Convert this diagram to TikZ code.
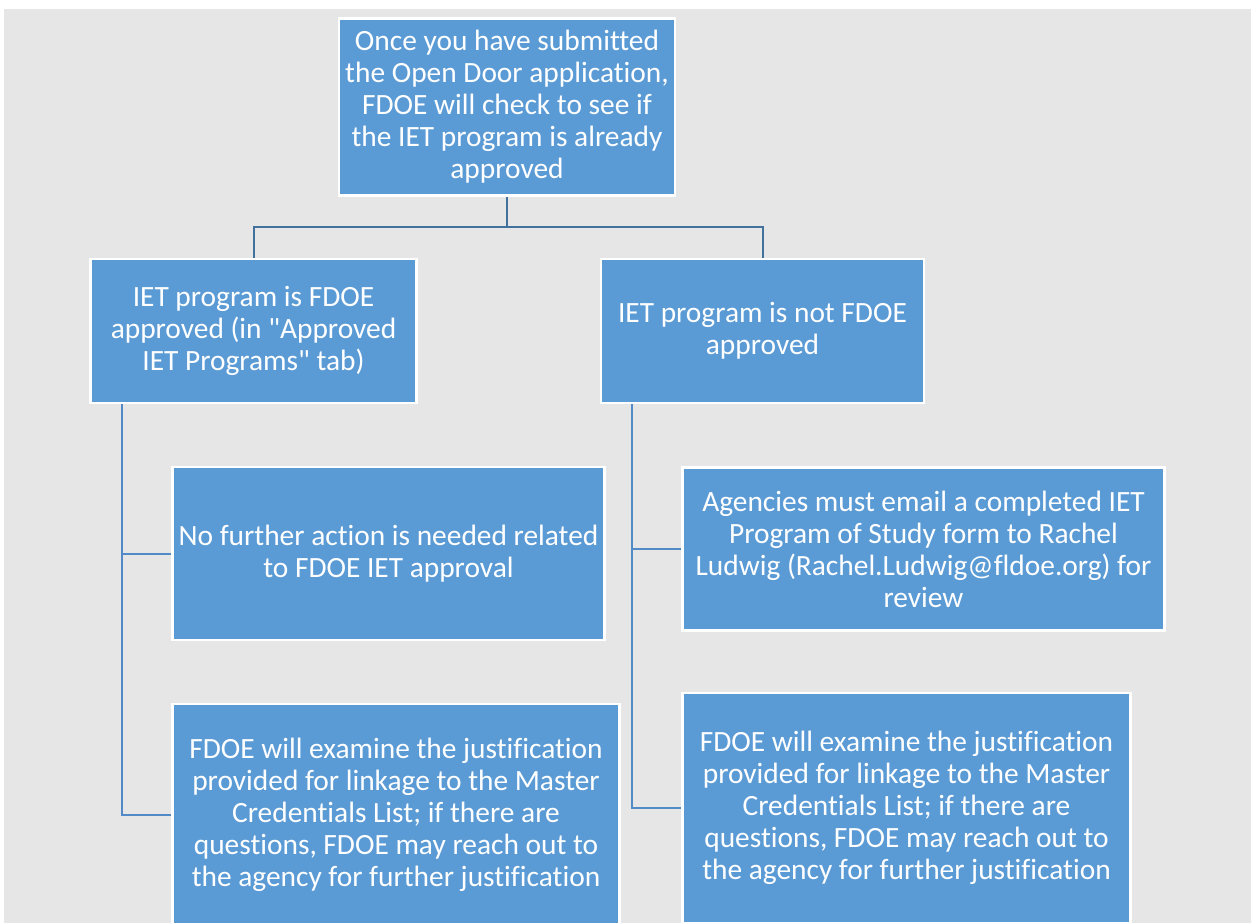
\documentclass[tikz,border=0pt]{standalone}
\usepackage{fontspec}
\setmainfont{Carlito}[Ligatures={NoCommon,TeXOff}]
\usetikzlibrary{positioning,calc}

\definecolor{boxblue}{HTML}{5B9BD5}
\definecolor{pagegray}{HTML}{E6E6E6}
\definecolor{splitblue}{HTML}{41719C}
\definecolor{spineblue}{HTML}{5289C7}

\begin{document}
\begin{tikzpicture}[x=1pt,y=-1pt,
    stepbox/.style={rectangle,draw=white,line width=2.5pt,fill=boxblue,text=white,
        align=center,inner sep=0pt,font=\fontsize{29.4}{32}\selectfont},
    split/.style={draw=splitblue,line width=2pt},
    spine/.style={draw=spineblue,line width=2pt}]
        \useasboundingbox (0,0) rectangle (1253,923);
        \clip (0,0) rectangle (1253,923);
        \fill[pagegray] (4,9) rectangle (1251,923);

        \node[stepbox,minimum width=336pt,minimum height=177pt] (check) at (507,107) {Once you have submitted\\the Open Door application,\\FDOE will check to see if\\the IET program is already\\approved};

        \node[stepbox,minimum width=326pt,minimum height=144pt] (approved) at (253.5,331) {IET program is FDOE\\approved (in "Approved\\IET Programs" tab)};
        \node[stepbox,minimum width=432pt,minimum height=173pt] (approved-none) at (388.5,553.5) {No further action is needed related\\to FDOE IET approval};
        \node[stepbox,minimum width=447pt,minimum height=222pt] (approved-examine) at (396,815) {FDOE will examine the justification\\provided for linkage to the Master\\Credentials List; if there are\\questions, FDOE may reach out to\\the agency for further justification};

        \node[stepbox,minimum width=323pt,minimum height=144pt] (notapproved) at (762.5,331) {IET program is not FDOE\\approved};
        \node[stepbox,minimum width=482pt,minimum height=163pt] (notapproved-email) at (923.5,549) {Agencies must email a completed IET\\Program of Study form to Rachel\\Ludwig (Rachel.Ludwig@fldoe.org) for\\review};
        \node[stepbox,minimum width=448pt,minimum height=230pt] (notapproved-examine) at (906.5,808) {FDOE will examine the justification\\provided for linkage to the Master\\Credentials List; if there are\\questions, FDOE may reach out to\\the agency for further justification};

        \coordinate (fork) at ($(check.south)+(0,30)$);
        \draw[split] (check.south) -- (fork) -| (approved.north);
        \draw[split] (fork) -| (notapproved.north);

        \draw[spine] ([xshift=33pt]approved.south west) |- (approved-none.west);
        \draw[spine] ([xshift=33pt]approved.south west) |- (approved-examine.west);
        \draw[spine] ([xshift=32pt]notapproved.south west) |- (notapproved-email.west);
        \draw[spine] ([xshift=32pt]notapproved.south west) |- (notapproved-examine.west);
    \end{tikzpicture}
\end{document}
